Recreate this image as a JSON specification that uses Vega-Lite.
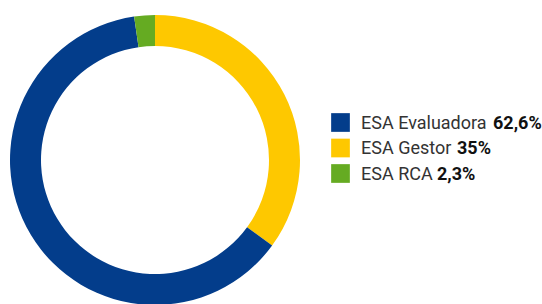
{
  "$schema": "https://vega.github.io/schema/vega-lite/v6.json",
  "padding": 0,
  "spacing": 0,
  "background": "white",
  "config": {"view": {"stroke": null}, "font": "Roboto"},
  "data": {"values": [
    {"category": "ESA Gestor", "value": 35, "label": "35%", "order": 1},
    {"category": "ESA Evaluadora", "value": 62.6, "label": "62,6%", "order": 2},
    {"category": "ESA RCA", "value": 2.3, "label": "2,3%", "order": 3}
  ]},
  "hconcat": [
    {
      "width": 310,
      "height": 320,
      "mark": {"type": "arc", "outerRadius": 145, "innerRadius": 114},
      "encoding": {
        "theta": {"field": "value", "type": "quantitative", "stack": true},
        "order": {"field": "order", "type": "quantitative"},
        "color": {
          "field": "category", "type": "nominal",
          "scale": {"domain": ["ESA Evaluadora", "ESA Gestor", "ESA RCA"], "range": ["#033d8b", "#fec800", "#65ab22"]},
          "legend": null
        }
      }
    },
    {
      "width": 61,
      "height": 320,
      "encoding": {
        "y": {
          "field": "category", "type": "nominal",
          "scale": {"type": "point", "domain": ["ESA Evaluadora", "ESA Gestor", "ESA RCA"], "range": [122.5, 173.5], "padding": 0},
          "axis": null
        }
      },
      "layer": [
        {
          "mark": {"type": "point", "shape": "square", "filled": true, "size": 350, "opacity": 1},
          "encoding": {
            "color": {
              "field": "category", "type": "nominal",
              "scale": {"domain": ["ESA Evaluadora", "ESA Gestor", "ESA RCA"], "range": ["#033d8b", "#fec800", "#65ab22"]},
              "legend": null
            }
          }
        },
        {
          "mark": {"type": "text", "align": "left", "baseline": "middle", "dx": 20.5, "dy": 1, "fontSize": 18, "color": "#333333"},
          "encoding": {"text": {"field": "category"}}
        },
        {
          "transform": [{"filter": "datum.category === 'ESA Evaluadora'"}],
          "mark": {"type": "text", "align": "left", "baseline": "middle", "dx": 152.5, "dy": 1, "fontSize": 18, "fontWeight": "bold", "color": "#111111"},
          "encoding": {"text": {"field": "label"}}
        },
        {
          "transform": [{"filter": "datum.category === 'ESA Gestor'"}],
          "mark": {"type": "text", "align": "left", "baseline": "middle", "dx": 116.5, "dy": 1, "fontSize": 18, "fontWeight": "bold", "color": "#111111"},
          "encoding": {"text": {"field": "label"}}
        },
        {
          "transform": [{"filter": "datum.category === 'ESA RCA'"}],
          "mark": {"type": "text", "align": "left", "baseline": "middle", "dx": 96.5, "dy": 1, "fontSize": 18, "fontWeight": "bold", "color": "#111111"},
          "encoding": {"text": {"field": "label"}}
        }
      ]
    }
  ]
}
